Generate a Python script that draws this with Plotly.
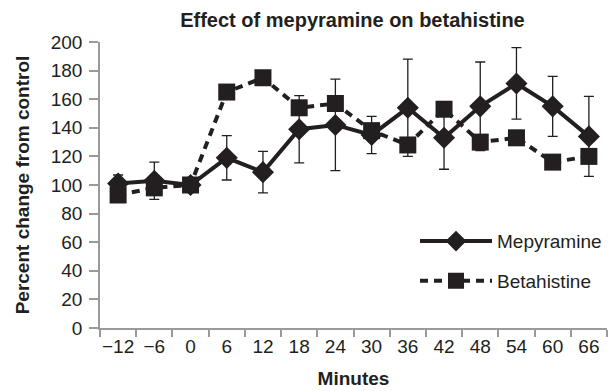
import plotly.graph_objects as go

minutes = ["\u221212", "\u22126", "0", "6", "12", "18", "24", "30", "36", "42", "48", "54", "60", "66"]
mepyramine = [101, 103, 100, 119, 109, 139, 142, 135, 154, 133, 155, 171, 155, 134]
mepyramine_err = [6, 13, 2, 15.5, 14.5, 23.5, 32, 13, 34, 22, 31, 25, 21, 28]
betahistine = [93, 98, 100, 165, 175, 154, 157, 138, 128, 153, 130, 133, 116, 120]

INK = "#231f20"
AXIS = "#9a9a9a"
FONT = "Liberation Sans, Arial, sans-serif"

fig = go.Figure()
fig.add_trace(go.Scatter(
    x=minutes, y=betahistine, name="Betahistine", mode="lines+markers",
    line=dict(color=INK, width=4, dash="8px,6px"),
    marker=dict(symbol="square", size=17, color=INK),
    legendrank=2, legendgroup="b",
))
fig.add_trace(go.Scatter(
    x=minutes, y=mepyramine, name="Mepyramine", mode="lines+markers",
    line=dict(color=INK, width=4),
    marker=dict(symbol="diamond", size=17, color=INK),
    error_y=dict(type="data", array=mepyramine_err, color=INK, thickness=1.3, width=5),
    legendrank=1, legendgroup="m",
))

fig.update_layout(
    width=613, height=391,
    margin=dict(l=100, r=6, t=42, b=63),
    paper_bgcolor="white", plot_bgcolor="white",
    font=dict(family=FONT, size=19, color=INK),
    title=dict(text="<b>Effect of mepyramine on betahistine</b>", x=0.575, xanchor="center",
               y=0.948, yanchor="middle", font=dict(size=20, color=INK)),
    showlegend=True,
    legend=dict(x=1.0, xanchor="right", y=0.37, yanchor="top", bgcolor="rgba(0,0,0,0)",
                font=dict(size=19, color=INK), tracegroupgap=12, itemwidth=72),
    xaxis=dict(type="category", range=[-0.5, 13.5], tickson="boundaries", tickangle=0,
               automargin=False,
               ticks="outside", ticklen=7, tickcolor=AXIS, tickwidth=1.5,
               showline=True, linecolor=AXIS, linewidth=1.5, showgrid=False, zeroline=False,
               title=dict(text="<b>Minutes</b>", font=dict(size=19), standoff=16),
               tickfont=dict(size=19)),
    yaxis=dict(range=[0, 200], dtick=20, ticks="outside", ticklen=9, tickcolor=AXIS, tickwidth=1.5,
               ticklabelstandoff=3, automargin=False,
               showline=True, linecolor=AXIS, linewidth=1.5, showgrid=False, zeroline=False,
               title=dict(text="<b>Percent change from control</b>", font=dict(size=19), standoff=16),
               tickfont=dict(size=19)),
)

fig.write_html("out.html", config={"displayModeBar": False},
               post_script="document.body.style.margin='0';")
